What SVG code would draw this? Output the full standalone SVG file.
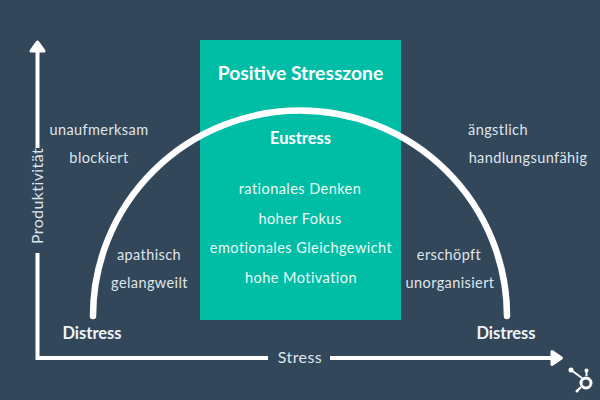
<svg xmlns="http://www.w3.org/2000/svg" width="600" height="400" viewBox="0 0 600 400">
<style>
text{font-family:Lato,"Open Sans","Liberation Sans",sans-serif;text-anchor:middle}
.n{font-size:14.500px;fill:#dfe5ea;letter-spacing:.4px}
.z{font-size:14.500px;fill:#eafaf7;letter-spacing:.45px}
.b{font-size:16.500px;font-weight:700;fill:#f0f3f5}
.ax{fill:none;stroke:#fff;stroke-width:4}
.ah{fill:#fff;stroke:#fff;stroke-width:3;stroke-linejoin:round}
</style>
<rect width="600" height="400" fill="#33475b"/>
<g id="zone"><rect x="200" y="40" width="201" height="280" fill="#00bda5"/>
<text x="300.500" y="80" style="font-size:19.300px;font-weight:700;fill:#fff">Positive Stresszone</text></g>
<g id="connectors">
<path class="ax" d="M37.500 148V50"/><path class="ah" d="M37.500 42L31 51H44Z"/>
<path class="ax" d="M37.500 253V358H268"/>
<path class="ax" d="M330 358H553"/><path class="ah" d="M561.500 358L552 351.500V364.500Z"/>
<path d="M93 316A207 205.500 0 0 1 507 316" fill="none" stroke="#fff" stroke-width="6.500" stroke-linecap="round"/>
</g>
<g id="logo" fill="#fff" stroke="#fff">
<circle cx="586" cy="383" r="5" fill="none" stroke-width="3"/>
<path d="M571 370L582 378M586.500 371V376M581 387L577 391" fill="none" stroke-width="2"/>
<circle cx="571" cy="370" r="2.500" stroke="none"/><circle cx="586.500" cy="370.500" r="2" stroke="none"/><circle cx="577" cy="391" r="1.500" stroke="none"/>
</g>
<g id="label-y"><text class="n" transform="translate(43 196) rotate(-90)" style="font-size:16px">Produktivität</text></g>
<g id="label-x"><text class="n" x="300" y="363" style="font-size:16px">Stress</text></g>
<g id="eustress"><text class="b" x="300.500" y="144" style="fill:#fff">Eustress</text></g>
<g id="zone-items">
<text class="z" x="300" y="194">rationales Denken</text>
<text class="z" x="300" y="224">hoher Fokus</text>
<text class="z" x="301" y="253">emotionales Gleichgewicht</text>
<text class="z" x="301" y="283">hohe Motivation</text>
</g>
<g id="top-left"><text class="n" x="99" y="135">unaufmerksam</text><text class="n" x="99" y="163">blockiert</text></g>
<g id="low-left"><text class="n" x="149" y="260">apathisch</text><text class="n" x="149.500" y="288">gelangweilt</text></g>
<g id="top-right"><text class="n" x="498" y="135">ängstlich</text><text class="n" x="528" y="163">handlungsunfähig</text></g>
<g id="low-right"><text class="n" x="449" y="260">erschöpft</text><text class="n" x="450" y="288">unorganisiert</text></g>
<g id="distress-left"><text class="b" x="92" y="339">Distress</text></g>
<g id="distress-right"><text class="b" x="506" y="339">Distress</text></g>
</svg>
